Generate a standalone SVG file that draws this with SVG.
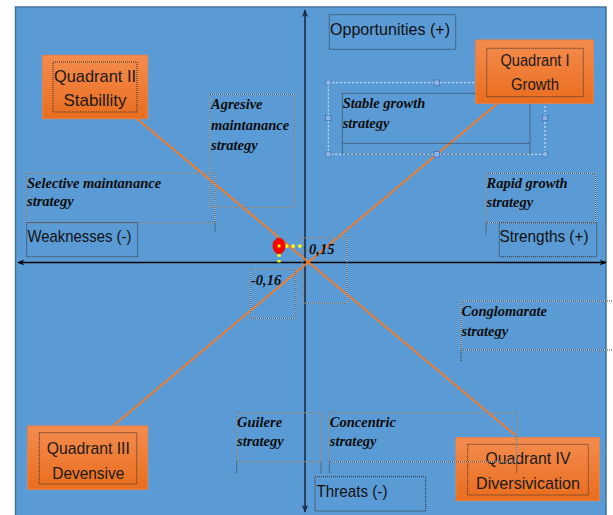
<svg xmlns="http://www.w3.org/2000/svg" width="613" height="515" viewBox="0 0 613 515">
  <defs>
    <linearGradient id="orangeFill" x1="0" y1="0" x2="0" y2="1">
      <stop offset="0" stop-color="#F48C4E"/>
      <stop offset="1" stop-color="#E96D1E"/>
    </linearGradient>
    <marker id="arrow" viewBox="0 0 10 10" refX="9" refY="5" markerWidth="7" markerHeight="7" orient="auto-start-reverse" markerUnits="userSpaceOnUse">
      <path d="M0,1 L10,5 L0,9 L3,5 Z" fill="#000"/>
    </marker>
    <marker id="arrowV" viewBox="0 0 10 10" refX="9" refY="5" markerWidth="8" markerHeight="8" orient="auto-start-reverse" markerUnits="userSpaceOnUse">
      <path d="M0,1 L10,5 L0,9 L3,5 Z" fill="#1B2A3D"/>
    </marker>
  </defs>
  <style>
    .panel { fill: #5B9BD5; stroke: #41719C; stroke-width: 1.5; }
    .quad { fill: url(#orangeFill); stroke: #F08040; stroke-width: 1; }
    .dotW { fill: none; stroke: #FFFFFF; stroke-width: 1; opacity: 0.6; }
    .dotK { fill: none; stroke: #333333; stroke-width: 1; stroke-dasharray: 1 1; }
    .qtext { font-family: "Liberation Sans", Arial, sans-serif; font-size: 17px; fill: #1A1A1A; text-anchor: middle; }
    .axis-label { font-family: "Liberation Sans", Arial, sans-serif; font-size: 17px; fill: #111111; }
    .strat { font-family: "Liberation Serif", "Times New Roman", serif; font-size: 14.5px; font-style: italic; font-weight: bold; fill: #0D0D0D; }
    .diag { stroke: #ED7D31; stroke-width: 2; fill: none; }
    .sel { fill: none; stroke: #FFFFFF; stroke-width: 1; stroke-dasharray: 2 2; opacity: 0.85; }
    .handle { fill: #8EB4E3; stroke: #3F6FB5; stroke-width: 0.8; }
    .yel { fill: #FFFF00; }
  </style>

  <!-- background panel -->
  <rect x="0" y="0" width="613" height="515" fill="#FFFFFF"/>
  <rect class="panel" x="15.5" y="7" width="590.5" height="512"/>

  <!-- axes and diagonal connectors -->
  <g id="connectors">
    <line x1="305" y1="512" x2="305" y2="10" stroke="#2A3F5A" stroke-width="2" marker-end="url(#arrowV)" marker-start="url(#arrowV)"/>
    <line x1="18" y1="262.5" x2="606" y2="262.5" stroke="#000" stroke-width="1.5" marker-end="url(#arrow)" marker-start="url(#arrow)"/>
    <line class="diag" x1="136" y1="118" x2="515" y2="435"/>
    <line class="diag" x1="113" y1="426" x2="498" y2="103"/>
  </g>

  <!-- strategy labels -->
  <g id="selective">
    <rect class="dotW" x="26.7" y="173.3" width="188.3" height="49.4"/>
    <rect class="dotK" x="26.7" y="173.3" width="188.3" height="49.4"/>
    <line class="dotK" x1="215" y1="222.7" x2="215" y2="233"/>
    <text class="strat" x="27" y="187.5">Selective maintanance</text>
    <text class="strat" x="27" y="205.5">strategy</text>
  </g>

  <g id="agresive">
    <rect class="dotW" x="210" y="94.3" width="84.7" height="113"/>
    <rect class="dotK" x="210" y="94.3" width="84.7" height="113"/>
    <text class="strat" x="211" y="108.5">Agresive</text>
    <text class="strat" x="211" y="129.5">maintanance</text>
    <text class="strat" x="211" y="149.5">strategy</text>
  </g>

  <g id="stable-growth">
    <rect class="dotK" x="342.3" y="93.3" width="187.7" height="61"/>
    <line class="dotK" x1="342.3" y1="143.3" x2="530" y2="143.3"/>
    <text class="strat" x="342.7" y="107.5">Stable growth</text>
    <text class="strat" x="342.7" y="128">strategy</text>
    <rect class="sel" x="328.3" y="82.7" width="216.7" height="71.6"/>
    <circle class="handle" cx="328.3" cy="82.7" r="3"/>
    <circle class="handle" cx="545" cy="82.7" r="3.2" fill="#6F9BD8"/>
    <circle class="handle" cx="328.3" cy="154.3" r="3"/>
    <circle class="handle" cx="545" cy="154.3" r="3"/>
    <rect class="handle" x="434" y="80" width="5.4" height="5.4"/>
    <rect class="handle" x="434" y="151.6" width="5.4" height="5.4"/>
    <rect class="handle" x="325.6" y="115.3" width="5.4" height="5.4"/>
    <rect class="handle" x="542.3" y="115.3" width="5.4" height="5.4"/>
  </g>

  <g id="rapid-growth">
    <rect class="dotW" x="486" y="173.3" width="109.3" height="49.4"/>
    <rect class="dotK" x="486" y="173.3" width="109.3" height="49.4"/>
    <line class="dotK" x1="486" y1="222.7" x2="486" y2="235"/>
    <text class="strat" x="486.5" y="187.5">Rapid growth</text>
    <text class="strat" x="486.5" y="207">strategy</text>
  </g>

  <g id="conglomarate">
    <rect class="dotW" x="461" y="301" width="160" height="49"/>
    <rect class="dotK" x="461" y="301" width="160" height="49"/>
    <line class="dotK" x1="461" y1="350" x2="461" y2="362"/>
    <text class="strat" x="461.5" y="315.5">Conglomarate</text>
    <text class="strat" x="461.5" y="335.5">strategy</text>
  </g>

  <g id="guilere">
    <rect class="dotW" x="236.7" y="412.7" width="84.3" height="49"/>
    <rect class="dotK" x="236.7" y="412.7" width="84.3" height="49"/>
    <line class="dotK" x1="236.7" y1="461.7" x2="236.7" y2="473"/>
    <line class="dotK" x1="321" y1="461.7" x2="321" y2="473"/>
    <text class="strat" x="237" y="426.5">Guilere</text>
    <text class="strat" x="237" y="445.5">strategy</text>
  </g>

  <!-- axis labels -->
  <g id="opportunities">
    <rect class="dotK" x="329.3" y="14.7" width="126.4" height="34.6"/>
    <text class="axis-label" x="330" y="35" textLength="120" lengthAdjust="spacingAndGlyphs">Opportunities (+)</text>
  </g>
  <g id="weaknesses">
    <rect class="dotK" x="26.7" y="222.7" width="111" height="34"/>
    <text class="axis-label" x="27.5" y="242" textLength="104" lengthAdjust="spacingAndGlyphs">Weaknesses (-)</text>
  </g>
  <g id="strengths">
    <rect class="dotK" x="499.3" y="222.7" width="97.4" height="34"/>
    <text class="axis-label" x="499.5" y="242" textLength="89" lengthAdjust="spacingAndGlyphs">Strengths (+)</text>
  </g>
  <g id="threats">
    <rect class="dotK" x="315" y="476.7" width="110.7" height="34.3"/>
    <text class="axis-label" x="316.5" y="497" textLength="71" lengthAdjust="spacingAndGlyphs">Threats (-)</text>
  </g>

  <!-- coordinate values -->
  <g id="value-x">
    <rect class="dotW" x="302.3" y="237.7" width="44.7" height="65.6"/>
    <rect class="dotK" x="302.3" y="237.7" width="44.7" height="65.6"/>
    <text class="strat" x="309" y="253.5">0,15</text>
  </g>
  <g id="value-y">
    <rect class="dotW" x="250.3" y="269.3" width="45.4" height="49"/>
    <rect class="dotK" x="250.3" y="269.3" width="45.4" height="49"/>
    <text class="strat" x="251" y="284.5">-0,16</text>
  </g>

  <!-- position marker with guide dots -->
  <g id="position">
    <rect class="yel" x="285" y="244.5" width="3.2" height="3.2"/>
    <rect class="yel" x="291.6" y="244.5" width="3.2" height="3.2"/>
    <rect class="yel" x="298.3" y="244.5" width="3.2" height="3.2"/>
    <rect class="yel" x="277.4" y="253.5" width="3.2" height="3.2"/>
    <rect class="yel" x="277.4" y="260" width="3.2" height="2.5"/>
    <ellipse cx="279" cy="246" rx="6" ry="7.8" fill="#FF0000" stroke="#D40000" stroke-width="0.8"/>
    <rect class="yel" x="277.6" y="244.6" width="2.8" height="2.8"/>
  </g>

  <!-- quadrant boxes -->
  <g id="quadrant-2">
    <rect class="quad" x="42.7" y="55.3" width="105" height="63.4"/>
    <rect class="dotK" x="53" y="62" width="84" height="50"/>
    <text class="qtext" x="95" y="81.5" textLength="82" lengthAdjust="spacingAndGlyphs">Quadrant II</text>
    <text class="qtext" x="95" y="106" textLength="63" lengthAdjust="spacingAndGlyphs">Stabillity</text>
  </g>
  <g id="quadrant-1">
    <rect class="quad" x="475.7" y="40" width="117.6" height="63.3"/>
    <rect class="dotK" x="486.7" y="48.3" width="96.6" height="48.4"/>
    <text class="qtext" x="535" y="66" textLength="69" lengthAdjust="spacingAndGlyphs">Quadrant I</text>
    <text class="qtext" x="535" y="89.5" textLength="48" lengthAdjust="spacingAndGlyphs">Growth</text>
  </g>
  <g id="quadrant-3">
    <rect class="quad" x="27.7" y="426" width="120" height="63.3"/>
    <rect class="dotK" x="39.3" y="432.7" width="97.4" height="51.3"/>
    <text class="qtext" x="88.3" y="453.5" textLength="83" lengthAdjust="spacingAndGlyphs">Quadrant III</text>
    <text class="qtext" x="88.3" y="478.5" textLength="72" lengthAdjust="spacingAndGlyphs">Devensive</text>
  </g>
  <g id="quadrant-4">
    <rect class="quad" x="456" y="437.7" width="143.3" height="63"/>
    <rect class="dotK" x="467.7" y="444.3" width="120.6" height="50.7"/>
    <text class="qtext" x="528" y="463.5" textLength="85" lengthAdjust="spacingAndGlyphs">Quadrant IV</text>
    <text class="qtext" x="528" y="488.5" textLength="104" lengthAdjust="spacingAndGlyphs">Diversivication</text>
  </g>

  <!-- this text box sits above the Quadrant IV box -->
  <g id="concentric">
    <rect class="dotW" x="329.3" y="412.7" width="187.4" height="49"/>
    <rect class="dotK" x="329.3" y="412.7" width="187.4" height="49"/>
    <line class="dotK" x1="329.3" y1="461.7" x2="329.3" y2="473"/>
    <line class="dotK" x1="516.7" y1="461.7" x2="516.7" y2="473"/>
    <text class="strat" x="329.8" y="426.5">Concentric</text>
    <text class="strat" x="329.8" y="445.5">strategy</text>
  </g>
</svg>
